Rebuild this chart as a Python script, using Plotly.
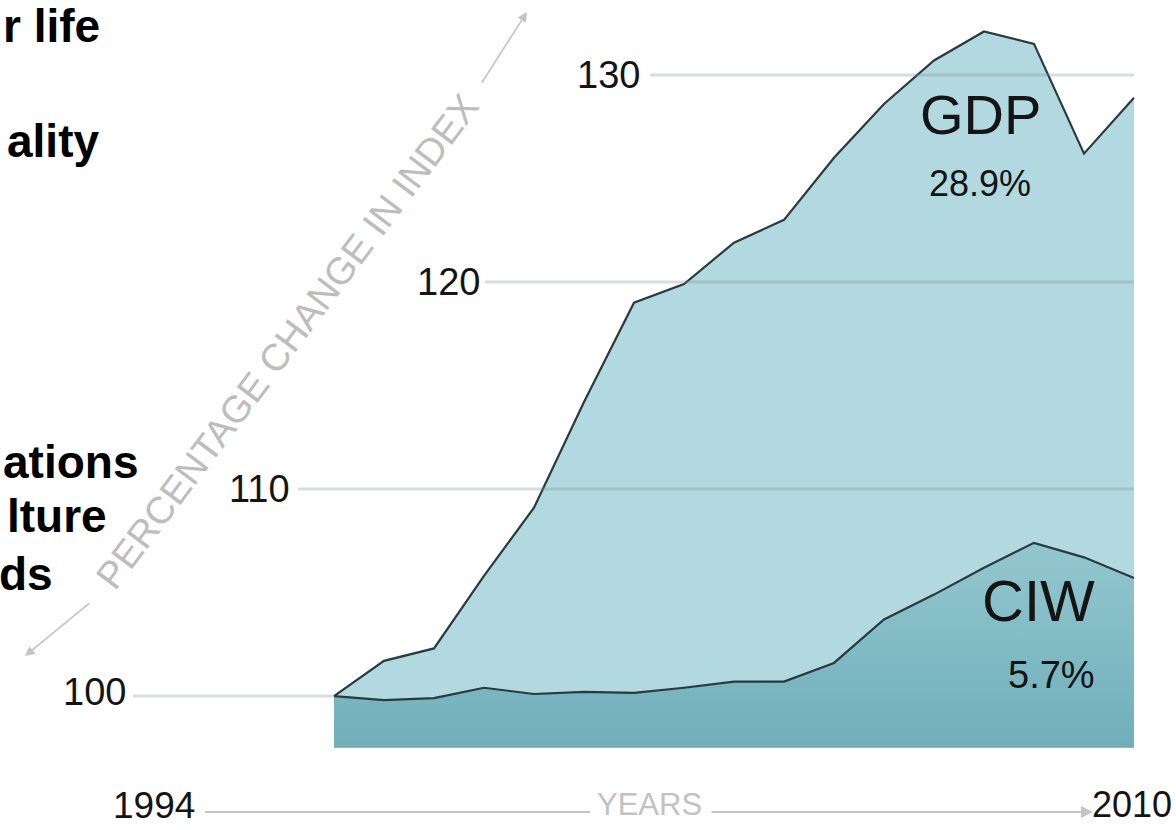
import plotly.graph_objects as go

# Index values (1994 = 100)
years = [1994, 1995, 1996, 1997, 1998, 1999, 2000, 2001, 2002,
         2003, 2004, 2005, 2006, 2007, 2008, 2009, 2010]
gdp = [100.0, 101.7, 102.3, 105.8, 109.1, 114.2, 119.0, 119.9, 121.9,
       123.0, 126.0, 128.6, 130.7, 132.1, 131.5, 126.2, 128.9]
ciw = [100.0, 99.8, 99.9, 100.4, 100.1, 100.2, 100.15, 100.4, 100.7,
       100.7, 101.6, 103.7, 104.9, 106.2, 107.4, 106.7, 105.7]
y_ticks = [100, 110, 120, 130]
tick_labels = ["100", "110", "120", "130"]
series_labels = ["GDP", "CIW"]
side_words = ["r life", "ality", "ations", "lture", "ds"]

BASE = 97.5
W, H = 1176, 830
X_RANGE = [1987.32, 2010.84]
Y_RANGE = [93.53, 133.62]

FONT = "Liberation Sans, Arial, sans-serif"
DARK = "#141414"
LINE = "#2a3a3d"
LIGHT_FILL = "#b2d9df"
GRAY = "#c4c4c4"


def px_to_x(px):
    return X_RANGE[0] + px / W * (X_RANGE[1] - X_RANGE[0])


def px_x(px):
    return px / W


def px_y(py):
    return 1 - py / H


def change_text(series):
    return "%.1f%%" % (series[-1] - series[0])


fig = go.Figure()

# GDP area: baseline then filled outline
fig.add_trace(go.Scatter(x=years, y=[BASE] * len(years), mode="lines",
                         line=dict(width=0), hoverinfo="skip", showlegend=False))
fig.add_trace(go.Scatter(x=years, y=gdp, mode="lines", fill="tonexty",
                         fillcolor=LIGHT_FILL, line=dict(color=LINE, width=2.2),
                         name="GDP", showlegend=False))
# CIW area on top
fig.add_trace(go.Scatter(x=years, y=[BASE] * len(years), mode="lines",
                         line=dict(width=0), hoverinfo="skip", showlegend=False))
fig.add_trace(go.Scatter(x=years, y=ciw, mode="lines", fill="tonexty",
                         fillgradient=dict(type="vertical",
                                           colorscale=[[0, "#70afba"], [1, "#93c7cf"]]),
                         line=dict(color=LINE, width=2.2),
                         name="CIW", showlegend=False))

# horizontal reference lines with their staggered labels
grid_start_px = [133, 298, 485, 650]
label_right_px = [128, 292, 482, 642]
shapes = []
annotations = []
for val, lab, gs, lr in zip(y_ticks, tick_labels, grid_start_px, label_right_px):
    x_end = years[0] if val == y_ticks[0] else years[-1]
    shapes.append(dict(type="line", xref="x", yref="y", x0=px_to_x(gs), x1=x_end,
                       y0=val, y1=val, layer="above",
                       line=dict(color="rgba(130,140,145,0.30)", width=3)))
    annotations.append(dict(xref="paper", yref="y", x=px_x(lr), y=val,
                            xanchor="right", yanchor="middle", showarrow=False,
                            yshift=4 if val == 100 else 0,
                            text=lab, font=dict(family=FONT, size=38, color=DARK)))

# series name and change labels
annotations += [
    dict(xref="paper", yref="paper", x=px_x(980), y=px_y(114), showarrow=False,
         text=series_labels[0], font=dict(family=FONT, size=56, color=DARK),
         xanchor="center", yanchor="middle"),
    dict(xref="paper", yref="paper", x=px_x(980), y=px_y(183), showarrow=False,
         text=change_text(gdp), font=dict(family=FONT, size=36, color=DARK),
         xanchor="center", yanchor="middle"),
    dict(xref="paper", yref="paper", x=px_x(1038), y=px_y(600), showarrow=False,
         text=series_labels[1], font=dict(family=FONT, size=58, color=DARK),
         xanchor="center", yanchor="middle"),
    dict(xref="paper", yref="paper", x=px_x(1051), y=px_y(675), showarrow=False,
         text=change_text(ciw), font=dict(family=FONT, size=38, color=DARK),
         xanchor="center", yanchor="middle"),
]

# x axis caption with end years and arrow
shapes.append(dict(type="line", xref="paper", yref="paper",
                   x0=px_x(205), x1=px_x(590), y0=px_y(812), y1=px_y(812),
                   line=dict(color=GRAY, width=2)))
annotations += [
    dict(xref="paper", yref="paper", x=px_x(1093), y=px_y(812),
         ax=-383, ay=0, showarrow=True, arrowhead=2, arrowsize=1.2, arrowwidth=2,
         arrowcolor=GRAY, text=""),
    dict(xref="paper", yref="paper", x=px_x(154), y=px_y(805),
         text=str(years[0]), showarrow=False, xanchor="center", yanchor="middle",
         font=dict(family=FONT, size=37, color=DARK)),
    dict(xref="paper", yref="paper", x=px_x(1174), y=px_y(804),
         text=str(years[-1]), showarrow=False, xanchor="right", yanchor="middle",
         font=dict(family=FONT, size=36, color=DARK)),
    dict(xref="paper", yref="paper", x=px_x(649), y=px_y(804),
         text="YEARS", showarrow=False, xanchor="center", yanchor="middle",
         bgcolor="white", borderpad=6,
         font=dict(family=FONT, size=31, color="#c2c2c2")),
]

# diagonal y axis caption with arrows at both ends
annotations += [
    dict(xref="paper", yref="paper", x=px_x(287), y=px_y(342),
         text="PERCENTAGE CHANGE IN INDEX", showarrow=False, textangle=-53,
         xanchor="center", yanchor="middle",
         font=dict(family=FONT, size=38, color="#bdbdbd")),
    dict(xref="paper", yref="paper", x=px_x(527), y=px_y(12),
         ax=-46, ay=72, showarrow=True, arrowhead=2, arrowsize=1.2, arrowwidth=1.6,
         arrowcolor=GRAY, text=""),
    dict(xref="paper", yref="paper", x=px_x(25), y=px_y(656),
         ax=66, ay=-54, showarrow=True, arrowhead=2, arrowsize=1.2, arrowwidth=1.6,
         arrowcolor=GRAY, text=""),
]

# bold words running in from the left edge
word_right_px = [102, 101, 140, 109, 55]
word_center_py = [26, 141, 462, 516, 574]
for word, rx, cy in zip(side_words, word_right_px, word_center_py):
    annotations.append(dict(xref="paper", yref="paper", x=px_x(rx),
                            y=px_y(cy), text="<b>%s</b>" % word,
                            showarrow=False, xanchor="right", yanchor="middle",
                            font=dict(family=FONT, size=46, color="black")))

fig.update_layout(
    width=W, height=H,
    margin=dict(l=0, r=0, t=0, b=0),
    paper_bgcolor="white", plot_bgcolor="white",
    xaxis=dict(range=X_RANGE, visible=False, fixedrange=True),
    yaxis=dict(range=Y_RANGE, visible=False, fixedrange=True),
    shapes=shapes, annotations=annotations,
    showlegend=False,
)

fig.write_html("out.html")
